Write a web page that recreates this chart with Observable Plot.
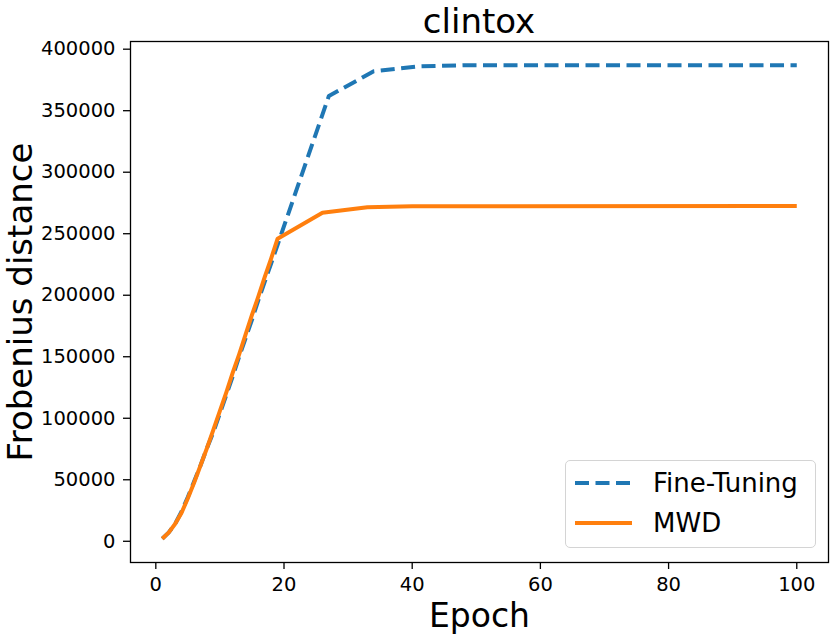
<!DOCTYPE html>
<html>
<head>
<meta charset="utf-8">
<script src="https://cdn.jsdelivr.net/npm/d3@7"></script>
<script src="https://cdn.jsdelivr.net/npm/@observablehq/plot@0.6"></script>
<style>
  body { margin: 0; background: #fff; font-family: "DejaVu Sans", sans-serif; }
  #wrap { position: relative; width: 830px; height: 637px; overflow: hidden; }
  #titlebox { position: relative; height: 40px; width: 830px; }
  #title { position: absolute; left: 130px; right: 2px; top: 1px; font-size: 34px; line-height: 40px; text-align: center; color: #000; }
  #legend { position: absolute; left: 565px; top: 460px; width: 251px; height: 88px; box-sizing: border-box;
            border: 1.3px solid #d4d4d4; border-radius: 5px; background: rgba(255,255,255,0.8); }
  .row { position: absolute; left: 0; height: 34px; display: flex; align-items: center; }
  .row svg { position: absolute; left: 9px; }
  .row span { position: absolute; left: 87px; font-size: 26px; white-space: nowrap; color: #000; }
</style>
</head>
<body>
<div id="wrap">
  <div id="titlebox"><div id="title">clintox</div></div>
  <div id="chart"></div>
  <div id="legend"></div>
</div>
<script>
// Data
const epochsFineTuning = [1,2,3,4,5,6,7,8,9,10,11,12,13,14,15,16,17,18,19,27,34,41,48,100];
const fineTuning = [2000,7000,14000,24000,36000,49000,62000,76000,89000,104000,119000,134000,150000,165000,180000,196000,211000,226000,241000,362000,382000,386000,387000,387000];
const epochsMWD = [1,2,3,4,5,6,7,8,9,10,11,12,13,14,15,16,17,18,19,26,33,40,100];
const mwd = [2000,7000,14000,23000,35000,48000,62000,76000,91000,106000,121000,137000,152000,168000,184000,199000,215000,230000,246000,267000,271500,272300,272500];
const seriesNames = ["Fine-Tuning", "MWD"];
const seriesColors = ["#1f77b4", "#ff7f0e"];
const xTicks = [0, 20, 40, 60, 80, 100];
const yTicks = [0, 50000, 100000, 150000, 200000, 250000, 300000, 350000, 400000];

const ftData = epochsFineTuning.map((e, i) => ({epoch: e, value: fineTuning[i]}));
const mwdData = epochsMWD.map((e, i) => ({epoch: e, value: mwd[i]}));

const chart = Plot.plot({
  width: 830,
  height: 597,
  marginTop: 1,
  marginBottom: 75,
  marginLeft: 130,
  marginRight: 2,
  style: {fontFamily: "DejaVu Sans", fontSize: "19.5px", color: "#000", background: "transparent", overflow: "visible"},
  x: {domain: [-3.95, 104.95]},
  y: {domain: [-17250, 406250]},
  marks: [
    Plot.axisX({ticks: xTicks, tickSize: 7, tickPadding: 8, strokeWidth: 1.3, label: null, fontSize: 19.5}),
    Plot.axisY({ticks: yTicks, tickFormat: d3.format("d"), tickSize: 7, tickPadding: 8, strokeWidth: 1.3, label: null, fontSize: 19.5}),
    Plot.line(ftData, {x: "epoch", y: "value", stroke: seriesColors[0], strokeWidth: 4, strokeDasharray: "14,6.5", strokeLinecap: "butt", strokeLinejoin: "round"}),
    Plot.line(mwdData, {x: "epoch", y: "value", stroke: seriesColors[1], strokeWidth: 4, strokeLinecap: "butt", strokeLinejoin: "round"}),
    Plot.frame({stroke: "#000", strokeWidth: 1.3}),
    Plot.text(["Epoch"], {frameAnchor: "bottom", lineAnchor: "top", dy: 41, fontSize: 33, fill: "#000"}),
    Plot.text(["Frobenius distance"], {frameAnchor: "left", textAnchor: "middle", lineAnchor: "middle", rotate: -90, dx: -109, fontSize: 34, fill: "#000"})
  ]
});
document.getElementById("chart").appendChild(chart);

// Legend
const legend = document.getElementById("legend");
seriesNames.forEach((name, i) => {
  const row = document.createElement("div");
  row.className = "row";
  row.style.top = (i === 0 ? 4.5 : 45) + "px";
  const dash = i === 0 ? 'stroke-dasharray="14,6.5"' : '';
  row.innerHTML = `<svg width="58" height="10"><line x1="0" y1="5" x2="57" y2="5" stroke="${seriesColors[i]}" stroke-width="4" ${dash}/></svg><span>${name}</span>`;
  legend.appendChild(row);
});
</script>
</body>
</html>
